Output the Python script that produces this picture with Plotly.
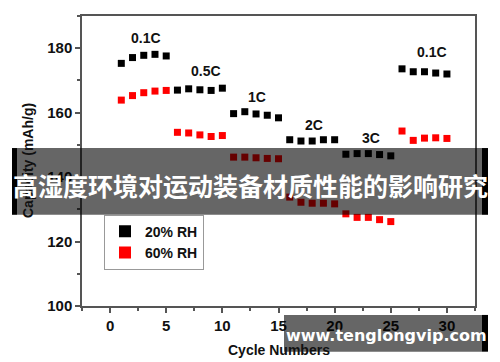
import plotly.graph_objects as go

# ---------------- data ----------------
cycles = list(range(1, 31))
rh20 = [175.3, 177.1, 177.8, 178.1, 177.6,
        167.0, 167.4, 167.1, 166.9, 167.6,
        159.7, 160.3, 159.6, 159.2, 158.4,
        151.6, 151.2, 151.2, 151.6, 151.6,
        147.1, 147.3, 147.3, 147.0, 146.6,
        173.6, 172.7, 172.7, 172.3, 172.0]
rh60 = [163.9, 165.3, 166.2, 166.7, 166.9,
        153.9, 153.7, 153.1, 152.6, 152.9,
        146.2, 146.2, 146.0, 145.8, 145.7,
        133.8, 132.2, 131.9, 131.9, 131.7,
        128.6, 127.5, 127.5, 126.8, 126.2,
        154.3, 151.4, 152.1, 152.2, 152.0]
rate_labels = ["0.1C", "0.5C", "1C", "2C", "3C", "0.1C"]
rate_x = [3.2, 8.5, 13.1, 18.2, 23.2, 28.7]
rate_y = [183.2, 172.9, 164.9, 156.3, 152.1, 178.8]
series_names = ["20% RH", "60% RH"]
x_tick_vals = [0, 5, 10, 15, 20, 25, 30]
y_tick_vals = [100, 120, 140, 160, 180]
title_text = "高湿度环境对运动装备材质性能的影响研究"
watermark_text = "www.tenglongvip.com"
x_title = "Cycle Numbers"
y_title = "Capacity (mAh/g)"

# ---------------- layout geometry ----------------
# the page body has an 8px margin, so the figure is drawn 8px in from the corner
OFF = 8
W, H = 500 - OFF, 362 - OFF
L, R, T, B = 82, 475, 14, 306  # plot area in window pixels


def px(x):
    return (x - L) / (R - L)


def py(y):
    return (B - y) / (B - T)


FONT = "Liberation Sans, Arial, sans-serif"
AX = "#555555"

fig = go.Figure()
fig.add_trace(go.Scatter(x=cycles, y=rh20, mode="markers", name=series_names[0],
                         marker=dict(symbol="square", size=7, color="black")))
fig.add_trace(go.Scatter(x=cycles, y=rh60, mode="markers", name=series_names[1],
                         marker=dict(symbol="square", size=7, color="#ff0000")))

for lab, xx, yy in zip(rate_labels, rate_x, rate_y):
    fig.add_annotation(x=xx, y=yy, xref="x", yref="y", text=f"<b>{lab}</b>",
                       showarrow=False, xanchor="center", yanchor="middle",
                       font=dict(family=FONT, size=14, color="#111"))

axis_common = dict(showline=True, linecolor=AX, linewidth=1.5, mirror=True,
                   ticks="outside", ticklen=5, tickwidth=1.5, tickcolor=AX,
                   showgrid=False, zeroline=False,
                   tickfont=dict(family=FONT, size=15, color="#111", weight="bold"))

fig.update_xaxes(range=[-2.5, 32.5], tickvals=x_tick_vals,
                 minor=dict(dtick=2.5, tick0=0, ticks="outside", ticklen=3,
                            tickwidth=1.5, tickcolor=AX, showgrid=False),
                 **axis_common)
fig.update_yaxes(range=[100, 190], tickvals=y_tick_vals,
                 minor=dict(dtick=10, tick0=100, ticks="outside", ticklen=3,
                            tickwidth=1.5, tickcolor=AX, showgrid=False),
                 **axis_common)


def note(x, y, text, font, **kw):
    fig.add_annotation(xref="paper", yref="paper", x=px(x), y=py(y), text=text,
                       showarrow=False, xanchor="center", yanchor="middle",
                       font=font, **kw)


# axis titles
note(278.5, 350, f"<b>{x_title}</b>", dict(family=FONT, size=14, color="#111"))
note(28, 160, f"<b>{y_title}</b>", dict(family=FONT, size=14, color="#111"),
     textangle=-90)


def band(x0, x1, y0, y1, color):
    fig.add_shape(type="rect", xref="paper", yref="paper",
                  x0=px(x0), x1=px(x1), y0=py(y1), y1=py(y0),
                  fillcolor=color, line=dict(width=0), layer="above")


# overlay title band
band(12, 488, 147, 214, "rgba(0,0,0,0.6)")
band(12, 17, 147, 214, "black")
band(482, 488, 147, 214, "black")
note(250, 184, f"<b>{title_text}</b>",
     dict(family="Noto Sans CJK SC", size=25, color="white"))

# watermark band
band(284, 482, 315, 352, "rgba(0,0,0,0.6)")
band(482, 488, 315, 352, "black")
note(386, 336, f"<b>{watermark_text}</b>",
     dict(family="DejaVu Sans, Liberation Sans", size=16, color="white"))

fig.update_layout(
    width=W, height=H,
    margin=dict(l=L - OFF, r=W - (R - OFF), t=T - OFF, b=H - (B - OFF)),
    paper_bgcolor="white", plot_bgcolor="white",
    showlegend=True,
    legend=dict(x=px(104), y=py(214), xanchor="left", yanchor="top",
                bordercolor="#999999", borderwidth=1, bgcolor="white",
                font=dict(family=FONT, size=14, color="#111", weight="bold"),
                tracegroupgap=0, itemsizing="constant"),
)

fig.write_html("out.html")
